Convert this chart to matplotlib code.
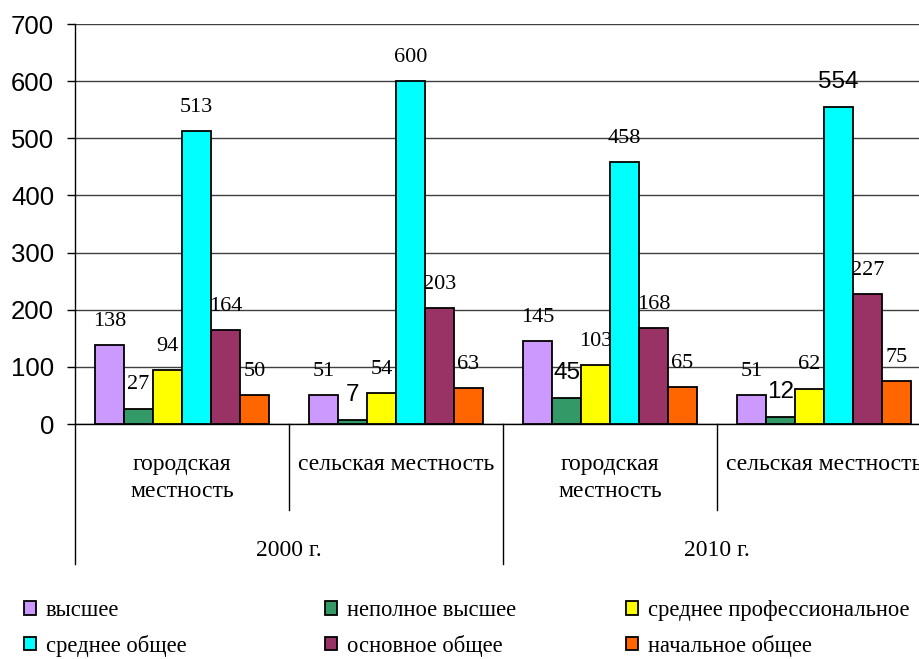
import matplotlib.pyplot as plt
import matplotlib.transforms as mtransforms
from matplotlib.patches import Rectangle
import numpy as np

# data
groups = ["городская\nместность", "сельская местность", "городская\nместность", "сельская местность"]
years = ["2000 г.", "2010 г."]
series = ["высшее", "неполное высшее", "среднее профессиональное",
          "среднее общее", "основное общее", "начальное общее"]
colors = ["#CC99FF", "#339966", "#FFFF00", "#00FFFF", "#993366", "#FF6600"]
vysshee = [138, 51, 145, 51]
nepolnoe = [27, 7, 45, 12]
sred_prof = [94, 54, 103, 62]
sred_obsh = [513, 600, 458, 554]
osnovnoe = [164, 203, 168, 227]
nachalnoe = [50, 63, 65, 75]
values = [vysshee, nepolnoe, sred_prof, sred_obsh, osnovnoe, nachalnoe]
# labels drawn in a sans font in the original (series index, group index)
sans_labels = {(1, 1), (1, 2), (1, 3), (3, 3)}

W, H = 919, 659
fig = plt.figure(figsize=(W / 100, H / 100), dpi=100)
ax = fig.add_axes([75 / W, (H - 424) / H, 856 / W, 400 / H])

x = np.arange(len(groups))
bw = 0.1355
for i, (name, vals) in enumerate(zip(series, values)):
    pos = x - 3 * bw + bw / 2 + i * bw
    ax.bar(pos, vals, bw, color=colors[i], edgecolor="black", linewidth=1.3,
           label=name, zorder=3)
    for j, (px, v) in enumerate(zip(pos, vals)):
        if (i, j) in sans_labels:
            ax.annotate(str(v), (px, v), xytext=(0, 18), textcoords="offset points",
                        ha="center", va="center", fontsize=17.5, family="Liberation Sans")
        else:
            ax.annotate(str(v), (px, v), xytext=(0, 17), textcoords="offset points",
                        ha="center", va="center", fontsize=16, family="Liberation Serif")

ax.set_xlim(-0.5, 3.5)
ax.set_ylim(0, 700)
ax.set_yticks(range(0, 701, 100))
ax.yaxis.grid(True, color="#404040", linewidth=1, zorder=0)
ax.set_xticks([])
ax.tick_params(axis="y", direction="out", length=6, width=1, labelsize=18.5, pad=9)
for lab in ax.get_yticklabels():
    lab.set_family("Liberation Sans")
for s in ["top", "right"]:
    ax.spines[s].set_visible(False)
ax.spines["left"].set_linewidth(1)
ax.spines["bottom"].set_linewidth(1)

# category axis below
tr = mtransforms.blended_transform_factory(ax.transData, ax.transAxes)
ax.plot([-0.5, -0.5], [0, -0.35], color="black", lw=1, transform=tr, clip_on=False)
for b, low in [(0.5, -0.215), (1.5, -0.35), (2.5, -0.215)]:
    ax.plot([b, b], [0, low], color="black", lw=1, transform=tr, clip_on=False)
for g, name in zip(x, groups):
    ax.text(g, -0.075, name, transform=tr, ha="center", va="top", fontsize=17,
            family="Liberation Serif", linespacing=1.4)
for k, yr in enumerate(years):
    ax.text(2 * k + 0.5, -0.315, yr, transform=tr, ha="center", va="center",
            fontsize=17, family="Liberation Serif")

# legend, three columns
handles = [Rectangle((0, 0), 1, 1, facecolor=c, edgecolor="black", linewidth=1.3)
           for c in colors]
col_x = [24, 325, 626]
for c in range(3):
    fig.legend([handles[c], handles[c + 3]], [series[c], series[c + 3]],
               loc="upper left", bbox_to_anchor=(col_x[c] / W, (H - 600) / H),
               frameon=False, borderpad=0, borderaxespad=0, handlelength=0.55,
               handleheight=0.55, handletextpad=0.4, labelspacing=0.6,
               prop={"family": "Liberation Serif", "size": 16.3})

fig.savefig("out.png", dpi=100)
